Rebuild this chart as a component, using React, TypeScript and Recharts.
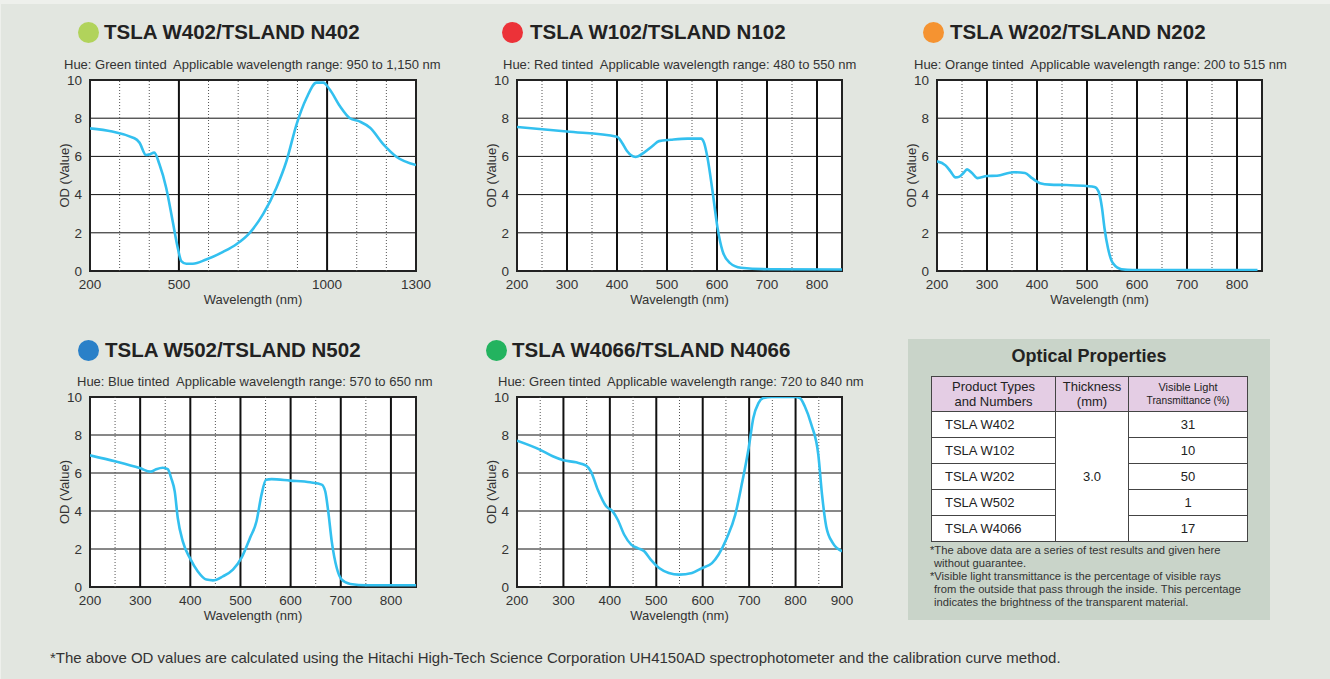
import React from 'react';
import { LineChart, Line, XAxis, YAxis, CartesianGrid, ReferenceLine, ReferenceArea } from 'recharts';

// OD curves (wavelength in nm / OD value)
const w402Nm = [200, 350, 367, 389, 400, 417, 434, 457, 479, 496, 508, 525, 547, 592, 649, 694, 739, 785, 829, 863, 897, 931, 964, 987, 1009, 1043, 1077, 1111, 1145, 1190, 1235, 1300];
const w402Od = [7.47, 6.95, 6.72, 6.07, 6.1, 6.2, 5.6, 4.36, 2.6, 1.22, 0.52, 0.38, 0.38, 0.6, 1.0, 1.4, 2.0, 3.0, 4.36, 5.76, 7.68, 9.07, 9.86, 9.86, 9.5, 8.64, 8.0, 7.82, 7.5, 6.63, 5.97, 5.55];

const w102Nm = [200, 300, 400, 410, 420, 437, 454, 471, 484, 508, 541, 568, 574, 581, 591, 601, 611, 625, 648, 709, 850];
const w102Od = [7.54, 7.3, 7.03, 6.72, 6.28, 5.97, 6.2, 6.54, 6.8, 6.87, 6.93, 6.93, 6.72, 5.93, 4.19, 2.27, 1.05, 0.44, 0.17, 0.09, 0.08];

const w202Nm = [200, 217, 227, 237, 245, 253, 260, 270, 281, 300, 320, 353, 376, 390, 406, 426, 459, 499, 515, 523, 530, 535, 542, 552, 569, 592, 841];
const w202Od = [5.74, 5.53, 5.22, 4.9, 4.94, 5.13, 5.32, 5.13, 4.86, 4.97, 4.99, 5.17, 5.13, 4.86, 4.6, 4.52, 4.5, 4.45, 4.4, 4.17, 3.3, 2.24, 1.19, 0.4, 0.09, 0.05, 0.05];

const w502Nm = [200, 252, 299, 321, 332, 345, 355, 362, 369, 375, 385, 399, 415, 432, 445, 465, 485, 502, 519, 532, 542, 551, 562, 599, 639, 662, 669, 675, 682, 692, 702, 719, 752, 785, 850];
const w502Od = [6.93, 6.6, 6.26, 6.07, 6.2, 6.28, 6.2, 5.72, 5.02, 3.63, 2.4, 1.53, 0.82, 0.39, 0.35, 0.56, 0.91, 1.53, 2.58, 3.46, 4.86, 5.65, 5.68, 5.6, 5.51, 5.39, 5.04, 3.98, 2.4, 1.0, 0.39, 0.16, 0.09, 0.09, 0.09];

const w4066Nm = [200, 249, 277, 300, 327, 349, 359, 374, 392, 406, 417, 431, 446, 460, 474, 488, 506, 527, 549, 577, 599, 620, 634, 652, 670, 684, 699, 709, 720, 731, 749, 799, 809, 820, 834, 849, 857, 866, 880, 900];
const w4066Od = [7.7, 7.23, 6.88, 6.67, 6.56, 6.39, 6.09, 5.12, 4.25, 3.98, 3.54, 2.75, 2.23, 2.05, 1.88, 1.44, 1.0, 0.74, 0.65, 0.74, 1.0, 1.26, 1.7, 2.58, 3.8, 5.39, 7.32, 8.9, 9.68, 9.95, 10, 10, 9.95, 9.5, 8.55, 6.96, 4.86, 3.19, 2.32, 1.88];

// axis ticks / grid
const odTicks = [0, 2, 4, 6, 8, 10];
const wideTicks = [200, 500, 1000, 1300];
const wideMajor = [500, 1000];
const wideMinor = [300, 400, 600, 700, 800, 900, 1100, 1200];
const uvTicks = [200, 300, 400, 500, 600, 700, 800];
const uvTicks900 = [200, 300, 400, 500, 600, 700, 800, 900];
const uvMajor = [300, 400, 500, 600, 700, 800];
const uvMinor = [250, 350, 450, 550, 650, 750];
const uvMinor900 = [250, 350, 450, 550, 650, 750, 850];

// table
const productNames = ['TSLA W402', 'TSLA W102', 'TSLA W202', 'TSLA W502', 'TSLA W4066'];
const thickness = '3.0';
const transmittance = [31, 10, 50, 1, 17];

const FONT = '"Liberation Sans", Arial, Helvetica, sans-serif';
const LINE = '#33c0ef';
const TEXT = '#333';

type PanelProps = {
  nm: number[];
  od: number[];
  domain: [number, number];
  ticks: number[];
  major: number[];
  minor: number[];
  title: string;
  dot: string;
  hue: string;
  plotLeft: number;
  plotTop: number;
  plotW: number;
  plotH: number;
  dotX: number;
  titleX: number;
  titleY: number;
  hueX: number;
  hueY: number;
};

function SpectrumPanel(p: PanelProps) {
  const data = p.nm.map((x, i) => ({ nm: x, od: p.od[i] }));
  const yw = 52;
  const mt = 10;
  const xh = 34;
  const mr = 20;
  const mb = 8;
  return (
    <>
      <div style={{ position: 'absolute', left: p.dotX - 10.5, top: p.titleY - 10.5, width: 21, height: 21, borderRadius: '50%', background: p.dot }} />
      <div style={{ position: 'absolute', left: p.titleX, top: p.titleY - 13, height: 26, lineHeight: '26px', fontSize: 20.5, fontWeight: 700, color: '#222', whiteSpace: 'nowrap' }}>
        {p.title}
      </div>
      <div style={{ position: 'absolute', left: p.hueX, top: p.hueY - 8, height: 16, lineHeight: '16px', fontSize: 13, color: TEXT, whiteSpace: 'pre' }}>
        {p.hue}
      </div>
      <div style={{ position: 'absolute', left: p.plotLeft - yw, top: p.plotTop - mt }}>
        <LineChart
          width={yw + p.plotW + mr}
          height={mt + p.plotH + xh + mb}
          data={data}
          margin={{ top: mt, right: mr, bottom: mb, left: 0 }}
        >
          <CartesianGrid vertical={false} stroke="#111" strokeWidth={1} fill="#fff" fillOpacity={1} />
          {p.minor.map(v => (
            <ReferenceLine key={`mn-${v}`} x={v} stroke="#555" strokeWidth={1} strokeDasharray="1 2" />
          ))}
          {p.major.map(v => (
            <ReferenceLine key={`mj-${v}`} x={v} stroke="#111" strokeWidth={2} />
          ))}
          <XAxis
            type="number"
            dataKey="nm"
            domain={p.domain}
            ticks={p.ticks}
            allowDataOverflow
            axisLine={false}
            tickLine={false}
            height={xh}
            tick={{ fill: TEXT, fontSize: 13.5, fontFamily: FONT }}
            label={{ value: 'Wavelength (nm)', position: 'insideBottom', offset: 1, fill: TEXT, fontSize: 13, fontFamily: FONT }}
          />
          <YAxis
            type="number"
            domain={[0, 10]}
            ticks={odTicks}
            allowDataOverflow
            axisLine={false}
            tickLine={false}
            width={yw}
            tick={{ fill: TEXT, fontSize: 13.5, fontFamily: FONT }}
            label={{ value: 'OD (Value)', angle: -90, position: 'center', fill: TEXT, fontSize: 13, fontFamily: FONT }}
          />
          <ReferenceArea x1={p.domain[0]} x2={p.domain[1]} y1={0} y2={10} fill="none" fillOpacity={0} stroke="#222" strokeWidth={2} />
          <Line type="monotone" dataKey="od" stroke={LINE} strokeWidth={2.6} dot={false} isAnimationActive={false} />
        </LineChart>
      </div>
    </>
  );
}

const cell: React.CSSProperties = { border: '1px solid #444', padding: 0, height: 25, fontSize: 13, color: '#222', fontFamily: FONT };

function OpticalTable() {
  return (
    <div style={{ position: 'absolute', left: 908, top: 339, width: 362, height: 281, background: '#c9d4c9' }}>
      <div style={{ position: 'absolute', left: 0, top: 7, width: 362, textAlign: 'center', fontSize: 18, fontWeight: 700, color: '#222' }}>
        Optical Properties
      </div>
      <table style={{ position: 'absolute', left: 23, top: 37, width: 316, borderCollapse: 'collapse', border: '1.5px solid #333', background: '#fff', fontFamily: FONT, tableLayout: 'fixed' }}>
        <colgroup>
          <col style={{ width: 124 }} />
          <col style={{ width: 73 }} />
          <col style={{ width: 119 }} />
        </colgroup>
        <thead>
          <tr style={{ background: '#e4cde4' }}>
            <th style={{ ...cell, height: 34, fontWeight: 400, lineHeight: '15px' }}>Product Types<br />and Numbers</th>
            <th style={{ ...cell, height: 34, fontWeight: 400, lineHeight: '15px' }}>Thickness<br />(mm)</th>
            <th style={{ ...cell, height: 34, fontWeight: 400, lineHeight: '13px', fontSize: 11 }}>Visible Light<br /><span style={{ fontSize: 10.2 }}>Transmittance (%)</span></th>
          </tr>
        </thead>
        <tbody>
          {productNames.map((name, i) => (
            <tr key={name}>
              <td style={{ ...cell, paddingLeft: 13 }}>{name}</td>
              {i === 0 ? (
                <td rowSpan={productNames.length} style={{ ...cell, textAlign: 'center' }}>{thickness}</td>
              ) : null}
              <td style={{ ...cell, textAlign: 'center' }}>{transmittance[i]}</td>
            </tr>
          ))}
        </tbody>
      </table>
      <div style={{ position: 'absolute', left: 22, top: 205, width: 340, fontSize: 11.2, lineHeight: '13px', color: TEXT, whiteSpace: 'nowrap' }}>
        <div>*The above data are a series of test results and given here</div>
        <div style={{ paddingLeft: 4 }}>without guarantee.</div>
        <div>*Visible light transmittance is the percentage of visible rays</div>
        <div style={{ paddingLeft: 4 }}>from the outside that pass through the inside. This percentage</div>
        <div style={{ paddingLeft: 4 }}>indicates the brightness of the transparent material.</div>
      </div>
    </div>
  );
}

export default function App() {
  return (
    <div style={{ position: 'absolute', left: 0, top: 0, width: 1330, height: 679, background: '#eef0ec', fontFamily: FONT, overflow: 'hidden' }}>
      <div style={{ position: 'absolute', left: 1, top: 4, right: 0, bottom: 0, background: '#e2e6e0' }} />
      <SpectrumPanel
        nm={w402Nm} od={w402Od} domain={[200, 1300]} ticks={wideTicks} major={wideMajor} minor={wideMinor}
        title="TSLA W402/TSLAND N402" dot="#b1d35b"
        hue="Hue: Green tinted  Applicable wavelength range: 950 to 1,150 nm"
        plotLeft={90} plotTop={80} plotW={326} plotH={191}
        dotX={88} titleX={104} titleY={32} hueX={64} hueY={65}
      />
      <SpectrumPanel
        nm={w102Nm} od={w102Od} domain={[200, 850]} ticks={uvTicks} major={uvMajor} minor={uvMinor}
        title="TSLA W102/TSLAND N102" dot="#ec3238"
        hue="Hue: Red tinted  Applicable wavelength range: 480 to 550 nm"
        plotLeft={517} plotTop={80} plotW={325} plotH={191}
        dotX={512} titleX={530} titleY={32} hueX={503} hueY={65}
      />
      <SpectrumPanel
        nm={w202Nm} od={w202Od} domain={[200, 850]} ticks={uvTicks} major={uvMajor} minor={uvMinor}
        title="TSLA W202/TSLAND N202" dot="#f59331"
        hue="Hue: Orange tinted  Applicable wavelength range: 200 to 515 nm"
        plotLeft={937} plotTop={80} plotW={325} plotH={191}
        dotX={933} titleX={950} titleY={32} hueX={914} hueY={65}
      />
      <SpectrumPanel
        nm={w502Nm} od={w502Od} domain={[200, 850]} ticks={uvTicks} major={uvMajor} minor={uvMinor}
        title="TSLA W502/TSLAND N502" dot="#2a80c8"
        hue="Hue: Blue tinted  Applicable wavelength range: 570 to 650 nm"
        plotLeft={90} plotTop={397} plotW={326} plotH={190}
        dotX={88} titleX={105} titleY={350} hueX={77} hueY={382}
      />
      <SpectrumPanel
        nm={w4066Nm} od={w4066Od} domain={[200, 900]} ticks={uvTicks900} major={uvMajor} minor={uvMinor900}
        title="TSLA W4066/TSLAND N4066" dot="#23b35f"
        hue="Hue: Green tinted  Applicable wavelength range: 720 to 840 nm"
        plotLeft={517} plotTop={397} plotW={325} plotH={190}
        dotX={496} titleX={512} titleY={350} hueX={498} hueY={382}
      />
      <OpticalTable />
      <div style={{ position: 'absolute', left: 50, top: 649, fontSize: 15, lineHeight: '17px', color: TEXT, whiteSpace: 'nowrap' }}>
        *The above OD values are calculated using the Hitachi High-Tech Science Corporation UH4150AD spectrophotometer and the calibration curve method.
      </div>
    </div>
  );
}
